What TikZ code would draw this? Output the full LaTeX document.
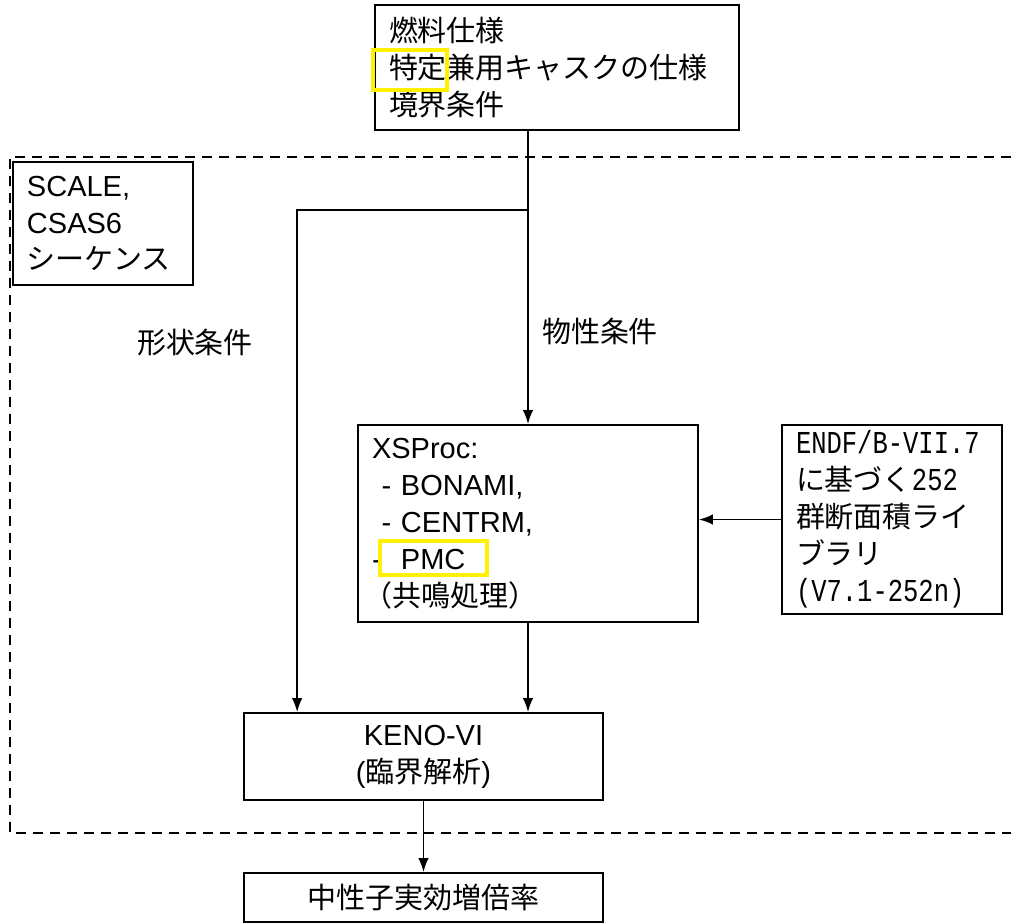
\documentclass[tikz,border=0pt]{standalone}
\usepackage{fontspec}
\setmainfont{Liberation Sans}
\newfontfamily\jp{Noto Sans CJK JP}
\newfontfamily\mono[Scale=1.1,FakeStretch=0.8]{Liberation Mono}
\usetikzlibrary{calc,positioning,arrows.meta}

\newcommand\boxfont{\fontsize{16.5pt}{21pt}\selectfont}

\begin{document}
\begin{tikzpicture}[box/.style={draw,line width=1pt,inner xsep=0.28cm,inner ysep=0pt,font=\boxfont},
    lbl/.style={font=\boxfont\jp,inner sep=0pt},
    hl/.style={draw=yellow,line width=2pt},
    flow/.style={-{Latex[length=8pt,width=6pt]},line width=1pt}]
    \useasboundingbox (0,0) rectangle (20.22,-18.48);

    % dashed frame of the SCALE sequence (open on the right)
    \draw[line width=1.1pt,dash pattern=on 0.2cm off 0.14cm] (20.22,-3.14) -- (0.2,-3.14) -- (0.2,-16.66) -- (20.22,-16.66);

    \node[box,font=\boxfont\jp,align=left,text width=6.72cm,minimum height=2.5cm] (spec) at (11.14,-1.35) {燃料仕様\\特定兼用キャスクの仕様\\境界条件};
    \node[box,align=left,text width=3.04cm,minimum height=2.46cm] (seq) at (2.06,-4.47) {SCALE,\\CSAS6\\{\jp シーケンス}};

    \node[box,align=left,text width=6.24cm,minimum height=3.94cm] (xsproc) at (10.56,-10.47) {XSProc:\\\ - BONAMI,\\\ - CENTRM,\\- \ PMC\\{\jp\hspace{-0.3em}（共鳴処理）}};
    \node[box,align=left,text width=3.84cm,minimum height=3.78cm] (lib) at (17.84,-10.39) {\mbox{\mono ENDF/B-VII.7}\\{\jp に基づく}{\mono 252}\\{\jp 群断面積ライ}\\{\jp ブラリ}\\\mbox{\mono (V7.1-252n)}};

    \node[box,align=center,text width=6.62cm,minimum height=1.74cm] (keno) at (8.47,-15.13) {KENO-VI\\({\jp 臨界解析})};
    \node[box,font=\boxfont\jp,align=center,text width=6.62cm,minimum height=0.98cm] (keff) at (8.47,-17.95) {中性子実効増倍率};

    \node[lbl] (shape) at (3.9,-6.85) {形状条件};
    \node[lbl] (matl) at (12.0,-6.62) {物性条件};

    % yellow marks
    \draw[hl] (7.46,-1.0) rectangle (8.94,-1.8);
    \draw[hl] (7.6,-10.82) rectangle (9.74,-11.5);

    \coordinate (split) at (10.56,-4.2);
    \draw[line width=1pt] (spec.south -| xsproc.north) -- (split);
    \draw[flow] (split) -- (xsproc.north);
    \draw[flow] (split) -| ([xshift=1.08cm]keno.north west);
    \draw[flow] (xsproc.south) -- (xsproc.south |- keno.north);
    \draw[flow] (lib.west) -- (lib.west -| xsproc.east);
    \draw[flow] (keno.south) -- (keff.north);
\end{tikzpicture}
\end{document}
